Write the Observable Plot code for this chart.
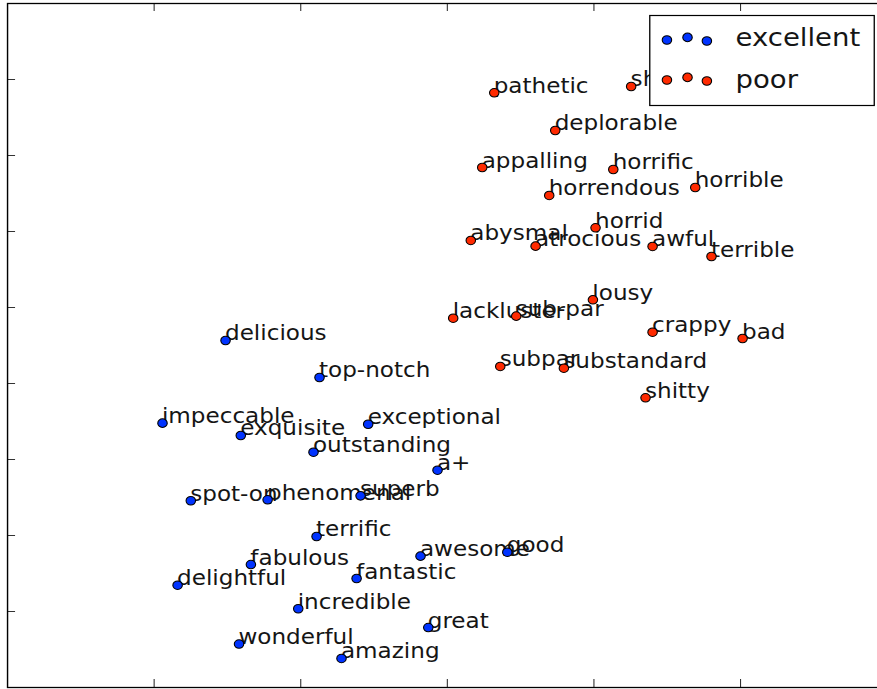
<!DOCTYPE html>
<html>
<head>
<meta charset="utf-8">
<script src="https://cdn.jsdelivr.net/npm/d3@7"></script>
<script src="https://cdn.jsdelivr.net/npm/@observablehq/plot@0.6"></script>
<style>
  html, body { margin: 0; padding: 0; background: #fff; overflow: hidden; }
  #wrap { position: relative; width: 797px; height: 689px; transform: scaleX(1.10038); transform-origin: 0 0; }
  #legend { position: absolute; left: 589.8px; top: 15px; overflow: visible; }
</style>
</head>
<body>
<div id="wrap">
  <div id="chart"></div>
  <svg id="legend" width="205" height="91"></svg>
</div>
<script>
// ---- data ----
const seriesNames = ["excellent", "poor"];
const seriesColors = ["#0033ff", "#ff2a00"];

const excellentWords = ["delicious", "top-notch", "impeccable", "exquisite", "exceptional", "outstanding", "a+",
  "spot-on", "phenomenal", "superb", "terrific", "fabulous", "awesome", "good", "delightful", "fantastic",
  "incredible", "great", "wonderful", "amazing"];
const excellentX = [1.487, 2.128, 1.057, 1.591, 2.460, 2.087, 2.933,
  1.250, 1.774, 2.408, 2.108, 1.660, 2.817, 3.409, 1.160, 2.381,
  1.983, 2.870, 1.579, 2.278];
const excellentY = [4.566, 4.079, 3.478, 3.316, 3.464, 3.096, 2.859,
  2.457, 2.470, 2.522, 1.987, 1.618, 1.728, 1.780, 1.346, 1.434,
  1.036, 0.789, 0.572, 0.382];

const poorWords = ["pathetic", "shoddy", "deplorable", "appalling", "horrific", "horrendous", "horrible",
  "horrid", "abysmal", "atrocious", "awful", "terrible", "lousy", "lackluster", "sub-par", "crappy",
  "bad", "subpar", "substandard", "shitty"];
const poorX = [3.320, 4.254, 3.736, 3.238, 4.132, 3.695, 4.691,
  4.011, 3.160, 3.602, 4.400, 4.802, 3.993, 3.040, 3.470, 4.400,
  5.014, 3.361, 3.795, 4.352];
const poorY = [7.825, 7.908, 7.329, 6.842, 6.816, 6.474, 6.579,
  6.049, 5.882, 5.807, 5.803, 5.671, 5.101, 4.859, 4.886, 4.675,
  4.592, 4.224, 4.201, 3.812];

const xTicks = [1, 2, 3, 4, 5];
const yTicks = [1, 2, 3, 4, 5, 6, 7, 8];
const xDomain = [0, 6];
const yDomain = [0, 9];

// ---- build table ----
const points = [
  ...excellentWords.map((w, i) => ({word: w, x: excellentX[i], y: excellentY[i], series: "excellent"})),
  ...poorWords.map((w, i) => ({word: w, x: poorX[i], y: poorY[i], series: "poor"}))
];

const tickLenY = 8 / 76;      // data units for vertical tick length
const tickLenX = 7.3 / 132.8; // data units for horizontal tick length

const chart = Plot.plot({
  width: 797,
  height: 689,
  marginLeft: 6.36,
  marginRight: -8.7,
  marginTop: 3,
  marginBottom: 2,
  x: {domain: xDomain, axis: null},
  y: {domain: yDomain, axis: null},
  color: {domain: seriesNames, range: seriesColors},
  style: {fontFamily: "'DejaVu Sans', sans-serif", fontSize: "21px", background: "#fff", overflow: "hidden"},
  marks: [
    Plot.text(points, {x: "x", y: "y", text: "word", textAnchor: "start", lineAnchor: "bottom",
      fill: "#151515", fontSize: 21, dx: -0.5}),
    Plot.dot(points, {x: "x", y: "y", r: 4.3, fill: "series", stroke: "#000", strokeWidth: 1}),
    Plot.ruleX(xTicks, {x: d => d, y1: yDomain[0], y2: yDomain[0] + tickLenY, stroke: "#333", strokeWidth: 1}),
    Plot.ruleX(xTicks, {x: d => d, y1: yDomain[1], y2: yDomain[1] - tickLenY, stroke: "#333", strokeWidth: 1}),
    Plot.ruleY(yTicks, {y: d => d, x1: xDomain[0], x2: xDomain[0] + tickLenX, stroke: "#333", strokeWidth: 1}),
    Plot.ruleY(yTicks, {y: d => d, x1: xDomain[1], x2: xDomain[1] - tickLenX, stroke: "#333", strokeWidth: 1}),
    Plot.frame({stroke: "#000", strokeWidth: 1.3})
  ]
});
document.getElementById("chart").appendChild(chart);

// ---- legend ----
const leg = d3.select("#legend");
leg.append("rect").attr("x", 0.5).attr("y", 0.5).attr("width", 204).attr("height", 90)
  .attr("fill", "#fff").attr("stroke", "#000").attr("stroke-width", 1.2);
const dotXs = [16.1, 34.8, 52.4];
const dotYs = [25, 22.4, 26];
seriesNames.forEach((name, i) => {
  dotXs.forEach((dx, j) => {
    leg.append("circle").attr("cx", dx).attr("cy", dotYs[j] + i * 40).attr("r", 4.3)
      .attr("fill", seriesColors[i]).attr("stroke", "#000").attr("stroke-width", 1);
  });
  leg.append("text").attr("x", 78.5).attr("y", 31.4 + i * 41.6)
    .attr("font-family", "'DejaVu Sans', sans-serif").attr("font-size", 25).attr("fill", "#151515")
    .text(name);
});
</script>
</body>
</html>
